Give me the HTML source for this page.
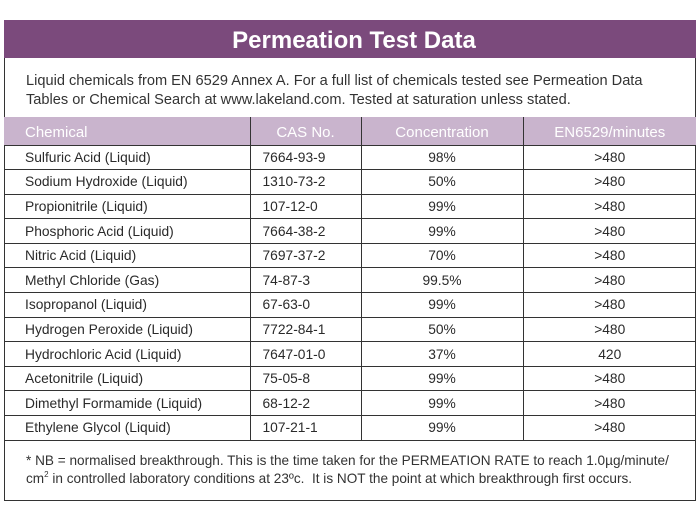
<!DOCTYPE html>
<html><head><meta charset="utf-8"><style>
*{margin:0;padding:0;box-sizing:border-box}
body{width:700px;height:525px;background:#fff;font-family:"Liberation Sans",sans-serif;color:#2a2a2a;position:relative;overflow:hidden}
.box{position:absolute;left:4px;top:20px;width:692px;height:481px;border:1.5px solid #333;}
.title{position:absolute;left:4px;top:20px;width:692px;height:38px;background:#7b4a7c;color:#fff;font-weight:bold;font-size:24px;text-align:center;line-height:42px;padding-left:8px}
.intro{position:absolute;left:26px;top:72px;font-size:14.6px;line-height:19px;color:#333;white-space:nowrap}
table{position:absolute;left:4px;top:117px;border-collapse:collapse;font-size:13.8px}
td{border:1.5px solid #333;height:24.6px;padding:0;vertical-align:middle}
th{background:#c9b4cd;color:#fff;font-weight:normal;font-size:15px;height:28px;padding-top:3px;border-left:1.5px solid #333;border-right:1.5px solid #333;border-bottom:1.5px solid #333}
th:first-child{border-left:none;text-align:left;padding-left:21px}
td:first-child{border-left:none;padding-left:21px}
td:last-child,th:last-child{border-right:none}
.c{text-align:center}
.cas{padding-left:12px}
.foot{position:absolute;left:26px;top:452px;font-size:13.6px;line-height:18px;color:#333;white-space:nowrap}
sup{font-size:8px;line-height:0;vertical-align:6px}
</style></head><body>
<div class="box"></div>
<div class="title">Permeation Test Data</div>
<div class="intro">Liquid chemicals from EN 6529 Annex A. For a full list of chemicals tested see Permeation Data<br>Tables or Chemical Search at www.lakeland.com. Tested at saturation unless stated.</div>
<table>
<tr><th style="width:246px">Chemical</th><th style="width:111px">CAS No.</th><th style="width:162px">Concentration</th><th style="width:173px">EN6529/minutes</th></tr>
<tr><td>Sulfuric Acid (Liquid)</td><td class="cas">7664-93-9</td><td class="c">98%</td><td class="c">&gt;480</td></tr>
<tr><td>Sodium Hydroxide (Liquid)</td><td class="cas">1310-73-2</td><td class="c">50%</td><td class="c">&gt;480</td></tr>
<tr><td>Propionitrile (Liquid)</td><td class="cas">107-12-0</td><td class="c">99%</td><td class="c">&gt;480</td></tr>
<tr><td>Phosphoric Acid (Liquid)</td><td class="cas">7664-38-2</td><td class="c">99%</td><td class="c">&gt;480</td></tr>
<tr><td>Nitric Acid (Liquid)</td><td class="cas">7697-37-2</td><td class="c">70%</td><td class="c">&gt;480</td></tr>
<tr><td>Methyl Chloride (Gas)</td><td class="cas">74-87-3</td><td class="c">99.5%</td><td class="c">&gt;480</td></tr>
<tr><td>Isopropanol (Liquid)</td><td class="cas">67-63-0</td><td class="c">99%</td><td class="c">&gt;480</td></tr>
<tr><td>Hydrogen Peroxide (Liquid)</td><td class="cas">7722-84-1</td><td class="c">50%</td><td class="c">&gt;480</td></tr>
<tr><td>Hydrochloric Acid (Liquid)</td><td class="cas">7647-01-0</td><td class="c">37%</td><td class="c">420</td></tr>
<tr><td>Acetonitrile (Liquid)</td><td class="cas">75-05-8</td><td class="c">99%</td><td class="c">&gt;480</td></tr>
<tr><td>Dimethyl Formamide (Liquid)</td><td class="cas">68-12-2</td><td class="c">99%</td><td class="c">&gt;480</td></tr>
<tr><td>Ethylene Glycol (Liquid)</td><td class="cas">107-21-1</td><td class="c">99%</td><td class="c">&gt;480</td></tr>
</table>
<div class="foot">* NB = normalised breakthrough. This is the time taken for the PERMEATION RATE to reach 1.0µg/minute/<br>cm<sup>2</sup> in controlled laboratory conditions at 23ºc.&nbsp; It is NOT the point at which breakthrough first occurs.</div>
</body></html>
